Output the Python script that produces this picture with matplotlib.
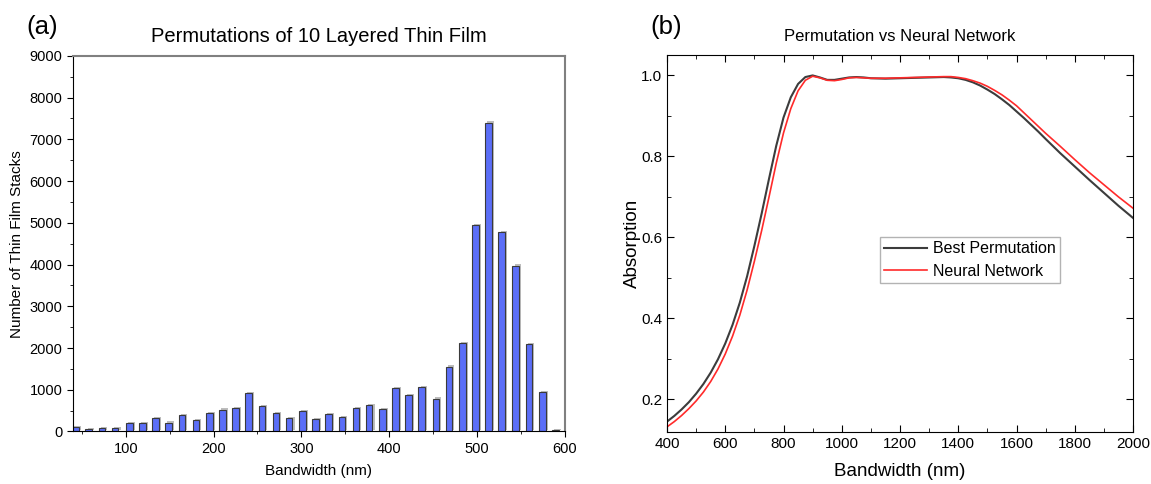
import matplotlib
matplotlib.use("Agg")
import matplotlib.pyplot as plt
import matplotlib.patheffects as pe
from matplotlib.ticker import MultipleLocator

plt.rcParams['font.family'] = ['Liberation Sans', 'DejaVu Sans']

# (a) histogramme des permutations
bin_centers = [43, 58, 73, 88, 104, 119, 134, 149, 164, 180, 195, 210, 225,
               240, 255, 271, 286, 301, 316, 331, 346, 362, 377, 392, 407,
               422, 437, 453, 468, 483, 498, 513, 528, 544, 559, 574, 589]
counts = [105, 48, 73, 80, 200, 194, 315, 210, 387, 266, 435, 524, 556,
          920, 613, 435, 315, 492, 290, 411, 347, 565, 629, 532, 1040,
          863, 1056, 782, 1548, 2115, 4940, 7400, 4780, 3970, 2085, 938, 25]

# (b) absorption
wl = [400, 425, 450, 475, 500, 525, 550, 575, 600, 625, 650, 675, 700, 725,
      750, 775, 800, 825, 850, 875, 900, 925, 950, 975, 1000, 1025, 1050,
      1075, 1100, 1150, 1200, 1250, 1300, 1350, 1375, 1400, 1425, 1450,
      1475, 1500, 1525, 1550, 1575, 1600, 1625, 1650, 1675, 1700, 1750,
      1800, 1850, 1900, 1950, 2000]
best_perm = [0.145, 0.159, 0.175, 0.193, 0.214, 0.238, 0.266, 0.299, 0.338,
             0.384, 0.439, 0.504, 0.579, 0.659, 0.744, 0.826, 0.896, 0.946,
             0.979, 0.996, 1.0, 0.995, 0.989, 0.989, 0.992, 0.995, 0.996,
             0.995, 0.993, 0.992, 0.993, 0.994, 0.995, 0.996, 0.995, 0.993,
             0.989, 0.983, 0.975, 0.965, 0.954, 0.941, 0.927, 0.911, 0.895,
             0.878, 0.861, 0.843, 0.808, 0.775, 0.742, 0.71, 0.678, 0.648]
neural_net = [0.132, 0.145, 0.16, 0.177, 0.196, 0.218, 0.244, 0.275, 0.312,
              0.356, 0.408, 0.47, 0.541, 0.617, 0.699, 0.783, 0.858, 0.918,
              0.962, 0.988, 0.998, 0.994, 0.988, 0.987, 0.99, 0.994, 0.995,
              0.994, 0.993, 0.993, 0.994, 0.995, 0.996, 0.997, 0.997, 0.995,
              0.992, 0.987, 0.981, 0.973, 0.963, 0.952, 0.939, 0.925, 0.908,
              0.891, 0.874, 0.857, 0.825, 0.792, 0.76, 0.73, 0.70, 0.672]

fig = plt.figure(figsize=(11.51, 4.84), dpi=100)

# --- panneau (a)
ax1 = fig.add_axes([0.0634, 0.1085, 0.4275, 0.776])
ax1.bar(bin_centers, counts, width=7.6, color='#5b6ef7', edgecolor='#3a3a3a',
        linewidth=0.8,
        path_effects=[pe.SimplePatchShadow(offset=(1.5, 1.0), shadow_rgbFace='#bdbdbd', alpha=1.0),
                      pe.Normal()])
ax1.set_xlim(40, 600)
ax1.set_ylim(0, 9000)
ax1.xaxis.set_major_locator(MultipleLocator(100))
ax1.xaxis.set_minor_locator(MultipleLocator(50))
ax1.yaxis.set_major_locator(MultipleLocator(1000))
ax1.yaxis.set_minor_locator(MultipleLocator(500))
ax1.tick_params(which='both', direction='out', top=False, right=False, labelsize=10.5)
ax1.tick_params(which='major', length=4)
ax1.tick_params(which='minor', length=2.5)
for s in ['top', 'right']:
    ax1.spines[s].set_color('#808080')
    ax1.spines[s].set_linewidth(1.5)
ax1.set_xlabel("Bandwidth (nm)", fontsize=11, labelpad=6)
ax1.set_ylabel("Number of Thin Film Stacks", fontsize=11)
ax1.set_title("Permutations of 10 Layered Thin Film", fontsize=14.5, pad=10)
fig.text(0.023, 0.93, "(a)", fontsize=18.5)

# --- panneau (b)
ax2 = fig.add_axes([0.5795, 0.108, 0.4049, 0.778])
ax2.plot(wl, best_perm, color='#3c3c3c', lw=1.5, label='Best Permutation')
ax2.plot(wl, neural_net, color='#ff2a2a', lw=1.2, label='Neural Network')
ax2.set_xlim(400, 2000)
ax2.set_ylim(0.12, 1.05)
ax2.xaxis.set_major_locator(MultipleLocator(200))
ax2.xaxis.set_minor_locator(MultipleLocator(100))
ax2.yaxis.set_major_locator(MultipleLocator(0.2))
ax2.yaxis.set_minor_locator(MultipleLocator(0.1))
ax2.tick_params(which='both', direction='in', top=True, right=True, labelsize=11)
ax2.tick_params(which='major', length=5)
ax2.tick_params(which='minor', length=3)
ax2.set_xlabel("Bandwidth (nm)", fontsize=13.5, labelpad=9)
ax2.set_ylabel("Absorption", fontsize=13.5, labelpad=0)
ax2.set_title("Permutation vs Neural Network", fontsize=12, pad=10)
ax2.legend(loc='upper left', bbox_to_anchor=(0.457, 0.516), fontsize=11.5,
           frameon=True, fancybox=False, edgecolor='#a0a0a0', handlelength=2.7,
           borderaxespad=0, borderpad=0.25, labelspacing=0.45, handletextpad=0.4)
fig.text(0.565, 0.93, "(b)", fontsize=18.5)

fig.savefig("out.png", dpi=100)
